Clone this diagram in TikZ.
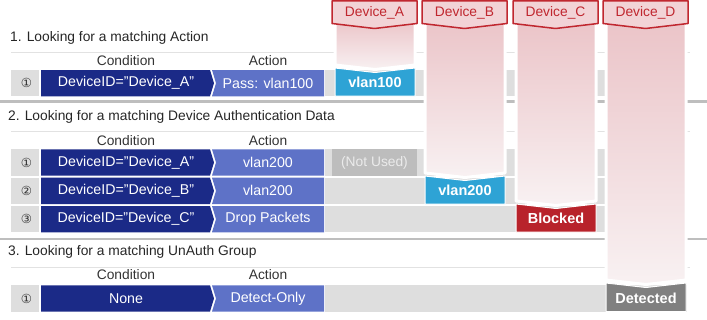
\documentclass[tikz,border=0pt]{standalone}
\usepackage{fontspec}
\setmainfont{Liberation Sans}
\newfontfamily\circfont{DejaVu Sans}

\definecolor{condblue}{HTML}{1B2A87}
\definecolor{actblue}{HTML}{5E72C7}
\definecolor{bandgray}{HTML}{DEDEDE}
\definecolor{rulegray}{HTML}{BEBEBE}
\definecolor{thingray}{HTML}{E2E2E2}
\definecolor{devred}{HTML}{C0272F}
\definecolor{devpink}{HTML}{F2D3D6}
\definecolor{colpink}{HTML}{EBC4C8}
\definecolor{colwhite}{HTML}{F8F1F2}
\definecolor{passblue}{HTML}{2EA3D5}
\definecolor{blockred}{HTML}{B8232B}
\definecolor{detectgray}{HTML}{808080}
\definecolor{unusedgray}{HTML}{BDBDBD}

\tikzset{
  title/.style={anchor=west, inner sep=0pt, text=black!85, font=\fontsize{13.8}{16}\selectfont},
  colhead/.style={inner sep=0pt, text=black!80, font=\fontsize{13.8}{16}\selectfont},
  celltext/.style={inner sep=0pt, text=white, font=\fontsize{14.2}{16}\selectfont},
  idxtext/.style={inner sep=0pt, text=black!80, font=\circfont\fontsize{12.5}{14}\selectfont},
  devtext/.style={inner sep=0pt, text=devred, font=\fontsize{13.8}{16}\selectfont},
  restext/.style={inner sep=0pt, text=white, font=\bfseries\fontsize{14.5}{16}\selectfont},
  devhead/.style={fill=devpink, draw=devred, line width=1.5pt},
  colfade/.style={top color=colpink, bottom color=colwhite, draw=white, line width=3pt},
  resbox/.style={draw=white, line width=1pt},
  thickrule/.style={draw=rulegray, line width=2.5pt},
  thinrule/.style={draw=thingray, line width=1pt},
}

\begin{document}
\begin{tikzpicture}[x=1pt, y=-1pt, line join=round]
  \useasboundingbox (0,0) rectangle (707,319);

  % Section titles
  \node[title] (title-1) at (10,37.5) {1. Looking for a matching Action};
  \node[title] (title-2) at (8,116.5) {2. Looking for a matching Device Authentication Data};
  \node[title] (title-3) at (8,252) {3. Looking for a matching UnAuth Group};

  % Rules
  \draw[thinrule] (11,52) -- (690,52);
  \draw[thinrule] (11,131.5) -- (690,131.5);
  \draw[thinrule] (11,267) -- (690,267);
  \draw[thickrule] (0,101.5) -- (707,101.5);
  \draw[thickrule] (0,239) -- (707,239);

  % Column headings
  \foreach \y/\s in {61/1, 141/2, 275/3} {
    \node[colhead] (cond-head-\s) at (126,\y) {Condition};
    \node[colhead] (act-head-\s) at (268,\y) {Action};
  }

  % Rows: number, condition, action
  \foreach \yt/\num/\cond/\act [count=\r] in {
      70/①/DeviceID="Device\_A"/Pass: vlan100,
      149.3/①/DeviceID="Device\_A"/vlan200,
      177.7/②/DeviceID="Device\_B"/vlan200,
      206/③/DeviceID="Device\_C"/Drop Packets,
      285.3/①/None/Detect-Only} {
    \pgfmathsetmacro\ym{\yt+13.15}
    \pgfmathsetmacro\yb{\yt+26.3}
    \fill[bandgray] (11,\yt) rectangle (39,\yb);
    \fill[bandgray] (325,\yt) rectangle (687,\yb);
    \fill[condblue] (41,\yt) -- (210,\yt) -- (214,\ym) -- (210,\yb) -- (41,\yb) -- cycle;
    \fill[actblue] (212,\yt) -- (324,\yt) -- (324,\yb) -- (212,\yb) -- (216,\ym) -- cycle;
    \node[idxtext] (num-\r) at (26.5,\ym) {\num};
    \node[celltext] (cond-\r) at (126,\ym) {\cond};
    \node[celltext] (act-\r) at (268,\ym) {\act};
  }

  % Unused entry
  \fill[unusedgray] (332,149.3) rectangle (417,175.6);
  \node[inner sep=0pt, text=white!92!black, font=\fontsize{13.8}{16}\selectfont] (unused) at (374.5,162.5) {(Not Used)};

  % Device columns
  \shadedraw[colfade] (335,20) -- (415,20) -- (415,65) -- (375,69.5) -- (335,65) -- cycle;
  \shadedraw[colfade] (425,20) -- (505,20) -- (505,173) -- (465,177.5) -- (425,173) -- cycle;
  \shadedraw[colfade] (516,20) -- (596,20) -- (596,201) -- (556,205.5) -- (516,201) -- cycle;
  \shadedraw[colfade] (606,20) -- (686,20) -- (686,280) -- (646,284.5) -- (606,280) -- cycle;

  % Results
  \filldraw[resbox, fill=passblue] (335,68) -- (375,72.5) -- (415,68) -- (415,96) -- (335,96) -- cycle;
  \node[restext] (res-a) at (375,82.5) {vlan100};
  \filldraw[resbox, fill=passblue] (425,176) -- (465,180.5) -- (505,176) -- (505,204) -- (425,204) -- cycle;
  \node[restext] (res-b) at (465,190.5) {vlan200};
  \filldraw[resbox, fill=blockred] (516,204) -- (556,208.5) -- (596,204) -- (596,232) -- (516,232) -- cycle;
  \node[restext] (res-c) at (556,218.5) {Blocked};
  \filldraw[resbox, fill=detectgray] (606,283) -- (646,287.5) -- (686,283) -- (686,311.5) -- (606,311.5) -- cycle;
  \node[restext] (res-d) at (646,298) {Detected};

  % Device headers
  \foreach \x/\dev in {332/A, 422/B, 513/C, 603/D} {
    \filldraw[devhead] (\x,0.75) -- ({\x+85},0.75) -- ({\x+85},23.5) -- ({\x+42.5},28.5) -- (\x,23.5) -- cycle;
    \node[devtext] (dev-\dev) at ({\x+42.5},12.5) {Device\_\dev};
  }
\end{tikzpicture}
\end{document}
